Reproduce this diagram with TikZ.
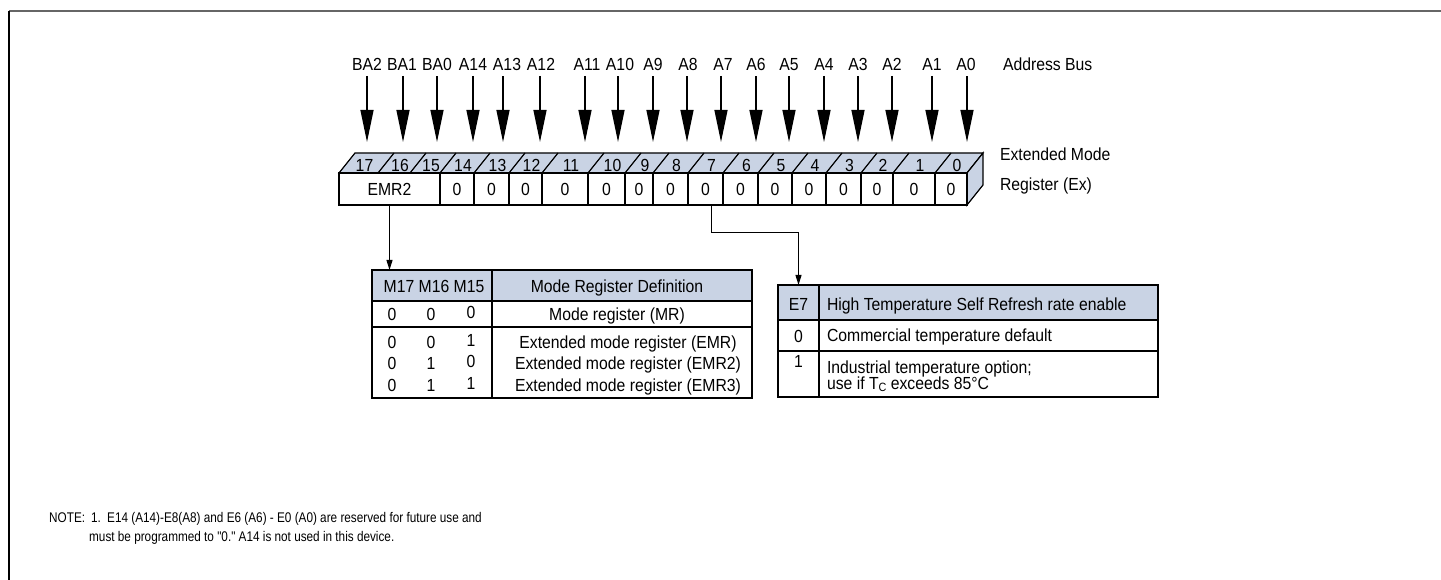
\documentclass[tikz,border=0pt]{standalone}
\usepackage{fontspec}
\setmainfont{Liberation Sans}[FakeStretch=0.9]
\newfontfamily\notefont{Liberation Sans}[FakeStretch=0.84]
\usetikzlibrary{arrows.meta}
\definecolor{hdr}{HTML}{C9D3E4}
\begin{document}
\begin{tikzpicture}[x=1pt,y=-1pt,
  font=\fontsize{17.5}{19}\selectfont,
  every node/.style={inner sep=0pt, outer sep=0pt},
  cell/.style={draw, line width=1.2pt, fill=white, minimum height=32pt},
  toplab/.style={anchor=base},
  buslab/.style={anchor=base, outer sep=5pt},
  busarrow/.style={line width=1.3pt, -{Triangle[width=13pt,length=32pt]}},
  sarrow/.style={line width=1pt, -{Triangle[width=6pt,length=10pt]}},
  tabline/.style={line width=1.2pt},
  hcell/.style={draw, line width=1.2pt, fill=hdr}
]
\useasboundingbox (0,0) rectangle (1441,580);
% frame
\draw[gray!80!black, line width=2pt] (9,11) -- (1441,11);
\draw[black, line width=1.5pt] (9,11) -- (9,580);

% register 3D: top face and side
\filldraw[fill=hdr, line width=1.2pt] (339,173) -- (355,153) -- (983,153) -- (967,173) -- cycle;
\filldraw[fill=hdr, line width=1.2pt] (967,173) -- (983,153) -- (983,185) -- (967,205) -- cycle;
\foreach \x in {378,410,440,474,509,542,588,625,653,688,723,758,792,826,861,893,935}
  \draw[line width=1.2pt] (\x,173) -- ({\x+16},153);
% top labels
\foreach \l/\r/\t in {339/378/17,378/410/16,410/440/15,440/474/14,474/509/13,509/542/12,542/588/11,588/625/10,625/653/9,653/688/8,688/723/7,723/758/6,758/792/5,792/826/4,826/861/3,861/893/2,893/935/1,935/967/0}
  \node[toplab] (tl\t) at ({(\l+\r)/2+6},171.5) {\t};
% front cells
\foreach \l/\r/\n/\t in {339/440/emr2/EMR2,440/474/c14/0,474/509/c13/0,509/542/c12/0,542/588/c11/0,588/625/c10/0,625/653/c9/0,653/688/c8/0,688/723/c7/0,723/758/c6/0,758/792/c5/0,792/826/c4/0,826/861/c3/0,861/893/c2/0,893/935/c1/0,935/967/c0/0}
  \node[cell, minimum width={(\r-\l)*1pt}] (\n) at ({(\l+\r)/2},189) {\t};

% address bus
\foreach \x/\lx/\t/\n in {367/367/BA2/bba2,403/402/BA1/bba1,437/437/BA0/bba0,473/473/A14/ba14,503/507/A13/ba13,540/541/A12/ba12,585/587/A11/ba11,618/620/A10/ba10,653/653/A9/ba9,687/688/A8/ba8,721/723/A7/ba7,756/756/A6/ba6,789/789/A5/ba5,824/824/A4/ba4,858/858/A3/ba3,892/892/A2/ba2,932/932/A1/ba1,967/966/A0/ba0}{
  \node[buslab] (\n) at (\lx,71) {\t};
  \coordinate (\n tip) at (\x,142);
  \draw[busarrow] (\n.south -| \n tip) -- (\n tip);
}
\node[anchor=base west] (abus) at (1003,71) {Address Bus};
\node[anchor=base west] (emt1) at (1000,161) {Extended Mode};
\node[anchor=base west] (emt2) at (1000,191) {Register (Ex)};

% mode register table
\node[hcell, minimum width=120pt, minimum height=31pt] (mh1) at (432,285.5) {};
\node[hcell, minimum width=260pt, minimum height=31pt] (mh2) at (622,285.5) {};
\node[anchor=base] (mh1t) at (434,293) {M17 M16 M15};
\node[anchor=base] (mh2t) at (617,293) {Mode Register Definition};
\draw[tabline] (372,301) rectangle (752,398);
\draw[tabline] (372,327) -- (752,327);
\draw[tabline] (492,301) -- (492,398);
\foreach \y/\a/\b/\c/\d/\dx [count=\i] in {320/0/0/0/Mode register (MR)/617,348/0/0/1/Extended mode register (EMR)/628,369/0/1/0/Extended mode register (EMR2)/628,391/0/1/1/Extended mode register (EMR3)/628}{
  \node[anchor=base] (ma\i) at (392,\y) {\a};
  \node[anchor=base] (mb\i) at (431,\y) {\b};
  \node[anchor=base] (mc\i) at (471,\y-2) {\c};
  \node[anchor=base] (md\i) at (\dx,\y) {\d};
}

% E7 table
\node[hcell, minimum width=41pt, minimum height=35pt] (e7h) at (798.5,302.5) {};
\node[anchor=base] (e7ht) at (798.5,310) {E7};
\node[hcell, minimum width=339pt, minimum height=35pt] (e7d) at (988.5,302.5) {};
\node[anchor=base west] (e7dt) at (827,310) {High Temperature Self Refresh rate enable};
\draw[tabline] (778,320) rectangle (1158,397);
\draw[tabline] (778,351) -- (1158,351);
\draw[tabline] (819,320) -- (819,397);
\node[anchor=base] (e7r0) at (798.5,342) {0};
\node[anchor=base west] (e7r0t) at (827,341) {Commercial temperature default};
\node[anchor=base] (e7r1) at (798.5,367) {1};
\node[anchor=base west] (e7r1t) at (827,373) {Industrial temperature option;};
\node[anchor=base west] (e7r2t) at (827,389) {use if T\raisebox{-2pt}{\fontsize{12}{12}\selectfont C} exceeds 85°C};

% connectors
\draw[sarrow] (emr2) -- (emr2 |- mh1.north);
\draw[sarrow] ([xshift=6pt]c7.south) -- ++(0,28) -| (e7h.north);

% note
\begin{scope}[every node/.style={anchor=base west, inner sep=0pt, font=\notefont\fontsize{14}{17}\selectfont}]
\node (n1a) at (49,522) {NOTE:};
\node (n1b) at (91,522) {1.};
\node (n1c) at (107,522) {E14 (A14)-E8(A8) and E6 (A6) - E0 (A0) are reserved for future use and};
\node (n2) at (89,541) {must be programmed to "0." A14 is not used in this device.};
\end{scope}
\end{tikzpicture}
\end{document}
